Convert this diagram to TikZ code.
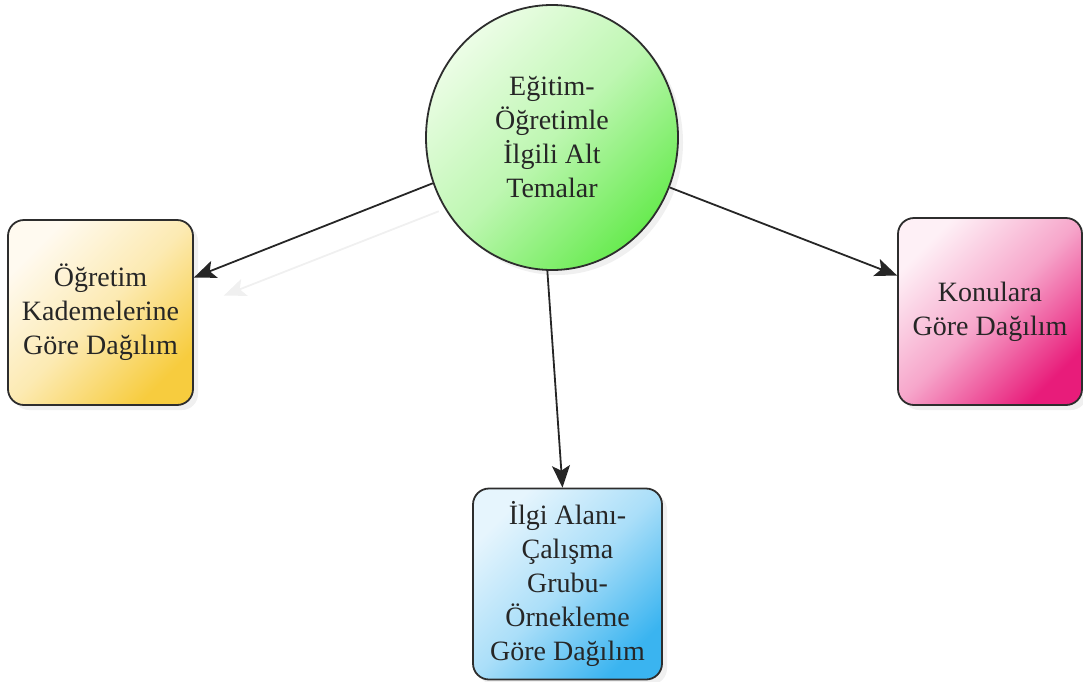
\documentclass[tikz,border=0pt]{standalone}
\usepackage{fontspec}
\setmainfont{Liberation Serif}
\usetikzlibrary{arrows.meta,shapes.geometric,shadows,calc}
\definecolor{yelA}{RGB}{255,250,240}
\definecolor{yelB}{RGB}{247,204,62}
\definecolor{pinkA}{RGB}{254,240,246}
\definecolor{pinkB}{RGB}{232,28,122}
\definecolor{bluA}{RGB}{230,245,253}
\definecolor{bluB}{RGB}{58,180,240}
\definecolor{grnA}{RGB}{236,253,230}
\definecolor{grnB}{RGB}{104,235,80}
\definecolor{edge}{RGB}{45,45,45}
\tikzset{
  box/.style={draw=edge, line width=1.8pt, rounded corners=16pt, align=center,
    font=\fontsize{28}{34}\selectfont, text=black!85, inner sep=0pt,
    drop shadow={opacity=0.12, shadow xshift=5pt, shadow yshift=-5pt}},
  diag/.style 2 args={top color=#1, bottom color=#2, middle color=#2!35!#1,
    shading angle=45},
  conn/.style={line width=1.8pt, draw=black!85,
    -{Stealth[length=22pt,width=18pt,inset=5pt]}},
  ghost/.style={line width=1.8pt, draw=black!6,
    -{Stealth[length=22pt,width=18pt,inset=5pt]}}
}
\begin{document}
\begin{tikzpicture}[x=1pt,y=-1pt]
\useasboundingbox (0,0) rectangle (1083,681);
\node[box, ellipse, minimum width=252pt, minimum height=265pt,
  diag={grnA}{grnB}] (c) at (552,137.5)
  {Eğitim-\\Öğretimle\\İlgili Alt\\Temalar};
\node[box, minimum width=185pt, minimum height=185pt,
  diag={yelA}{yelB}] (l) at (100.5,312.5)
  {Öğretim\\Kademelerine\\Göre Dağılım};
\node[box, minimum width=184pt, minimum height=187pt,
  diag={pinkA}{pinkB}] (r) at (990,311.5)
  {Konulara\\Göre Dağılım};
\node[box, minimum width=189pt, minimum height=191pt,
  diag={bluA}{bluB}] (b) at (567.5,584)
  {İlgi Alanı-\\Çalışma\\Grubu-\\Örnekleme\\Göre Dağılım};
\draw[ghost] ($(c.201.8)+(6,28)$) -- ($(l.east)+(30,-17)$);
\draw[conn] (c.201.8) -- ([yshift=35pt]l.east);
\draw[conn] (c.337) -- ([yshift=36pt]r.west);
\draw[conn] (c.268) -- ([xshift=-5pt]b.north);
\end{tikzpicture}
\end{document}
